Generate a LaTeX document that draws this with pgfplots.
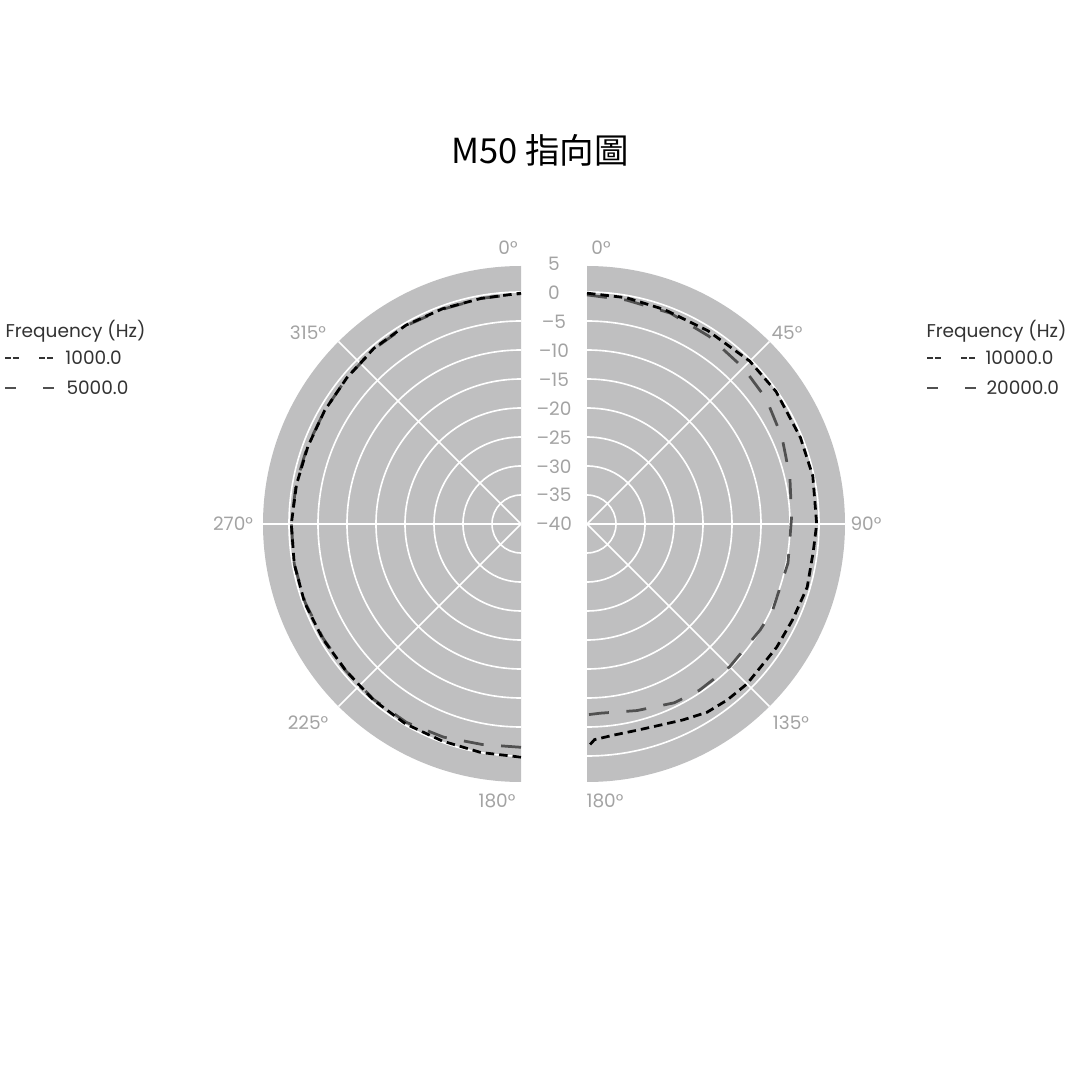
\documentclass[border=0pt]{standalone}
\usepackage{pgfplots}
\pgfplotsset{compat=1.18}
\usepackage{pgfplotstable}
\usepackage{fontspec}
\setmainfont{Poppins}
\newfontfamily\cjk{Noto Sans CJK TC}

\definecolor{disk}{HTML}{BFBFC0}
\definecolor{lbl}{HTML}{A3A3A3}
\definecolor{txt}{HTML}{333333}
\definecolor{grayline}{HTML}{505050}

% compass angle (deg, clockwise from top), level (dB)
\pgfplotstableread{
a db
180 0.2
190 0.0
200 -0.2
210 -0.2
220 -0.4
230 -0.6
240 -0.5
250 -0.3
260 -0.3
270 -0.4
280 -0.7
290 -0.9
300 -0.9
310 -0.8
320 -0.5
330 -0.4
340 -0.5
350 -0.5
360 -0.2
}\tabA
\pgfplotstableread{
a db
180 -1.5
190 -1.4
200 -0.9
210 -0.5
220 -0.5
230 -0.6
240 -0.6
250 -0.4
260 -0.3
270 -0.4
280 -0.6
290 -0.8
300 -0.9
310 -0.8
320 -0.6
330 -0.5
340 -0.6
350 -0.5
360 -0.3
}\tabB
\pgfplotstableread{
a db
0 -0.2
10 -0.4
20 -0.7
32 -0.7
45 -0.3
55 -0.2
68 -0.3
78 -0.2
90 -0.4
97 -0.7
106 -0.5
115 -0.9
123 -1.0
135 -1.0
141.5 -1.2
147.5 -1.5
154 -2.4
160 -3.1
166 -3.4
173 -3.3
178 -2.8
180 -1.4
}\tabC
\pgfplotstableread{
a db
0 -0.5
10 -0.8
21.5 -0.9
33 -1.4
45 -1.9
55 -2.3
66 -3.2
77 -4.1
88 -4.7
101 -4.7
115 -4.7
121.5 -5.0
135 -5.2
146 -5.4
154 -5.7
165 -6.7
176 -7.3
180 -7.1
}\tabD

\begin{document}
\begin{tikzpicture}
\begin{axis}[
  x=0.4pt, y=0.4pt,
  xmin=0, xmax=1080, ymin=0, ymax=1080,
  hide axis, clip=false,
]
\path (axis cs:0,0) rectangle (axis cs:1080,1080);

% half disks
\fill[disk] (axis cs:587,556) -- (axis cs:587,814) arc[start angle=90, end angle=-90, radius=103.2pt] -- cycle;
\fill[disk] (axis cs:521,556) -- (axis cs:521,814) arc[start angle=90, end angle=270, radius=103.2pt] -- cycle;

% grid circles
\pgfplotsinvokeforeach{1,...,8}{
  \draw[white, line width=0.65pt] (axis cs:587,{556+29*#1}) arc[start angle=90, end angle=-90, radius={11.6pt*#1}];
  \draw[white, line width=0.65pt] (axis cs:521,{556+29*#1}) arc[start angle=90, end angle=270, radius={11.6pt*#1}];
}
% radial lines
\draw[white, line width=0.65pt] (axis cs:587,556) -- (axis cs:769.4,738.4);
\draw[white, line width=0.65pt] (axis cs:587,556) -- (axis cs:845,556);
\draw[white, line width=0.65pt] (axis cs:587,556) -- (axis cs:769.4,373.6);
\draw[white, line width=0.65pt] (axis cs:521,556) -- (axis cs:338.6,738.4);
\draw[white, line width=0.65pt] (axis cs:521,556) -- (axis cs:263,556);
\draw[white, line width=0.65pt] (axis cs:521,556) -- (axis cs:338.6,373.6);

% data
\addplot[grayline, line width=1.1pt, dash pattern=on 8pt off 7pt]
  table[x expr={521+5.8*(\thisrow{db}+40)*sin(\thisrow{a})}, y expr={556+5.8*(\thisrow{db}+40)*cos(\thisrow{a})}] {\tabB};
\addplot[black, line width=1.1pt, dash pattern=on 3.4pt off 2pt]
  table[x expr={521+5.8*(\thisrow{db}+40)*sin(\thisrow{a})}, y expr={556+5.8*(\thisrow{db}+40)*cos(\thisrow{a})}] {\tabA};
\addplot[grayline, line width=1.1pt, dash pattern=on 8pt off 7pt]
  table[x expr={587+5.8*(\thisrow{db}+40)*sin(\thisrow{a})}, y expr={556+5.8*(\thisrow{db}+40)*cos(\thisrow{a})}] {\tabD};
\addplot[black, line width=1.1pt, dash pattern=on 3.4pt off 2pt]
  table[x expr={587+5.8*(\thisrow{db}+40)*sin(\thisrow{a})}, y expr={556+5.8*(\thisrow{db}+40)*cos(\thisrow{a})}] {\tabC};

% angle labels
\tikzset{al/.style={text=lbl, font=\fontsize{7.4}{9}\selectfont, inner sep=0pt}}
\node[al] at (axis cs:508,832) {0°};
\node[al] at (axis cs:308,747) {315°};
\node[al] at (axis cs:233,556) {270°};
\node[al] at (axis cs:308,357) {225°};
\node[al] at (axis cs:497,279) {180°};
\node[al] at (axis cs:601,832) {0°};
\node[al] at (axis cs:787,747) {45°};
\node[al] at (axis cs:866,556) {90°};
\node[al] at (axis cs:791,357) {135°};
\node[al] at (axis cs:605,279) {180°};

% radial scale labels
\node[al] at (axis cs:554,816) {5};
\node[al] at (axis cs:554,787) {0};
\node[al] at (axis cs:554,758) {–5};
\node[al] at (axis cs:554,729) {–10};
\node[al] at (axis cs:554,700) {–15};
\node[al] at (axis cs:554,671) {–20};
\node[al] at (axis cs:554,642) {–25};
\node[al] at (axis cs:554,613) {–30};
\node[al] at (axis cs:554,585) {–35};
\node[al] at (axis cs:554,556) {–40};

% legends
\tikzset{lt/.style={text=txt, font=\fontsize{7.4}{9}\selectfont, inner sep=0pt, anchor=west}}
\node[lt] at (axis cs:5,749) {Frequency (Hz)};
\draw[txt, line width=1.1pt, dash pattern=on 2.4pt off 0.8pt on 2.4pt off 8pt] (axis cs:5,722) -- (axis cs:55,722);
\node[lt] at (axis cs:65,722) {1000.0};
\draw[grayline, line width=1.1pt, dash pattern=on 4.4pt off 10.8pt] (axis cs:5,692) -- (axis cs:55,692);
\node[lt] at (axis cs:66,692) {5000.0};

\node[lt] at (axis cs:926,749) {Frequency (Hz)};
\draw[txt, line width=1.1pt, dash pattern=on 2.4pt off 0.8pt on 2.4pt off 8pt] (axis cs:927,722) -- (axis cs:977,722);
\node[lt] at (axis cs:985,722) {10000.0};
\draw[grayline, line width=1.1pt, dash pattern=on 4.4pt off 10.8pt] (axis cs:927,692) -- (axis cs:977,692);
\node[lt] at (axis cs:986,692) {20000.0};

% title
\node[inner sep=0pt] at (axis cs:540,930) {\cjk\fontsize{13.8}{16}\selectfont M50 指向圖};
\end{axis}
\end{tikzpicture}
\end{document}
